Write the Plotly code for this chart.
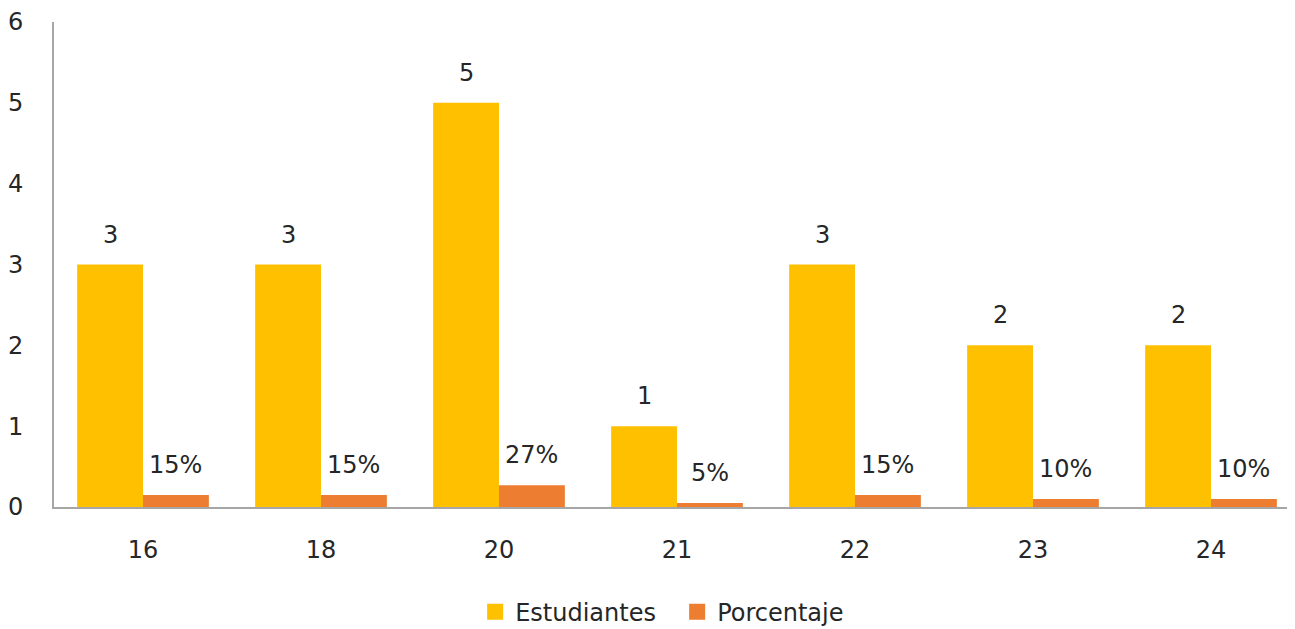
import plotly.graph_objects as go

categories = ["16", "18", "20", "21", "22", "23", "24"]
estudiantes = [3, 3, 5, 1, 3, 2, 2]
porcentaje = [0.15, 0.15, 0.27, 0.05, 0.15, 0.10, 0.10]
porcentaje_labels = ["15%", "15%", "27%", "5%", "15%", "10%", "10%"]
series_names = ["Estudiantes", "Porcentaje"]

YELLOW = "#FFC000"
ORANGE = "#ED7D31"
FONT = "DejaVu Sans"
TXT = "#262626"
FS = 24

fig = go.Figure()
fig.add_trace(go.Bar(x=categories, y=estudiantes, name=series_names[0], showlegend=False,
                     marker=dict(color=YELLOW, line=dict(width=0))))
fig.add_trace(go.Bar(x=categories, y=porcentaje, name=series_names[1], showlegend=False,
                     marker=dict(color=ORANGE, line=dict(width=0))))
# legend entries with larger square swatches
for nm, col in zip(series_names, [YELLOW, ORANGE]):
    fig.add_trace(go.Scatter(x=[None], y=[None], mode="markers", name=nm,
                             marker=dict(symbol="square", size=16, color=col)))

bargap = 0.26
half = (1 - bargap) / 4
annotations = []
for i, v in enumerate(estudiantes):
    annotations.append(dict(x=i - half, y=v, xref="x", yref="y", text=str(v),
                            showarrow=False, yanchor="bottom", yshift=14,
                            font=dict(family=FONT, size=FS, color=TXT)))
for i, (v, lab) in enumerate(zip(porcentaje, porcentaje_labels)):
    annotations.append(dict(x=i + half, y=v, xref="x", yref="y", text=lab,
                            showarrow=False, yanchor="bottom", yshift=14,
                            font=dict(family=FONT, size=FS, color=TXT)))

fig.update_layout(
    width=1292, height=645,
    margin=dict(l=45, r=0, t=10, b=146),
    plot_bgcolor="white", paper_bgcolor="white",
    barmode="group", bargap=bargap, bargroupgap=0,
    font=dict(family=FONT, size=FS, color=TXT),
    annotations=annotations,
    legend=dict(orientation="h", x=0.338, xanchor="left", y=-0.2168, yanchor="middle",
                font=dict(family=FONT, size=FS, color=TXT), itemwidth=30,
                entrywidth=157, entrywidthmode="pixels"),
    xaxis=dict(type="category", categoryorder="array", categoryarray=categories,
               showline=True, linecolor="#A6A6A6", linewidth=2,
               ticks="", showgrid=False, tickfont=dict(size=FS), ticklabelstandoff=20),
    yaxis=dict(range=[0, 6], dtick=1, showline=True, linecolor="#A6A6A6", linewidth=2,
               ticks="", showgrid=False, zeroline=False, tickfont=dict(size=FS),
               ticklabelstandoff=24, ticklabeloverflow="allow"),
)

fig.write_html("out.html")
